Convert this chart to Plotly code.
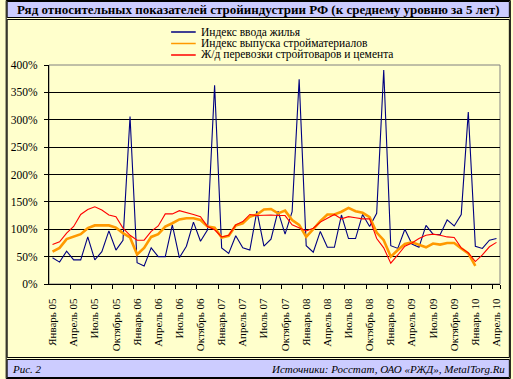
import plotly.graph_objects as go

# ---------------- data ----------------
month_names = ["Январь", "Февраль", "Март", "Апрель", "Май", "Июнь", "Июль",
               "Август", "Сентябрь", "Октябрь", "Ноябрь", "Декабрь"]
years = ["05", "06", "07", "08", "09", "10"]
months = [f"{m} {y}" for y in years for m in month_names][:64]  # Jan 05 .. Apr 10

housing = [48, 40, 60, 44, 44, 86, 44, 59, 97, 62, 80, 306,
           39, 33, 66, 50, 50, 108, 48, 69, 113, 78, 99, 363,
           66, 56, 88, 66, 62, 133, 69, 82, 133, 91, 132, 374,
           70, 58, 96, 67, 67, 126, 83, 83, 127, 105, 129, 391,
           70, 65, 100, 73, 67, 107, 91, 90, 117, 106, 127, 314,
           69, 65, 80, 83]
materials = [59, 66, 82, 86, 91, 102, 107, 107, 107, 103, 93, 85,
             54, 66, 86, 91, 105, 111, 118, 120, 120, 117, 105, 103,
             85, 88, 107, 111, 123, 127, 136, 137, 129, 134, 117, 108,
             86, 100, 115, 127, 127, 132, 139, 133, 130, 122, 94, 80,
             50, 62, 73, 76, 72, 67, 74, 72, 75, 75, 65, 56,
             33]
rail = [72, 77, 93, 105, 127, 136, 141, 135, 126, 123, 102, 89,
        80, 80, 96, 106, 128, 128, 134, 131, 127, 123, 105, 99,
        86, 89, 108, 114, 127, 125, 126, 126, 125, 125, 108, 102,
        97, 102, 113, 120, 127, 119, 123, 121, 119, 119, 83, 66,
        38, 53, 69, 75, 83, 89, 91, 89, 86, 85, 66, 57,
        41, 53, 68, 76]

series_names = ["Индекс ввода жилья", "Индекс выпуска стройматериалов",
                "Ж/д перевозки стройтоваров и цемента"]
series_colors = ["#000080", "#FF9900", "#FF0000"]
series_widths = [1.1, 2.6, 1.1]

title_text = "Ряд относительных показателей стройиндустрии РФ (к среднему уровню за 5 лет)"
fig_label = "Рис. 2"
source_text = "Источники: Росстат, ОАО «РЖД», MetalTorg.Ru"

# ---------------- layout helpers ----------------
W, H = 513, 379
L, R, T, B = 44, 502, 65, 284
FONT = "Times New Roman, Liberation Serif, serif"

def px(x):
    return (x - L) / (R - L)

def py(y):
    return (B - y) / (B - T)

fig = go.Figure()
idx = list(range(len(months)))
for vals, name, col, w in zip([housing, materials, rail], series_names,
                              series_colors, series_widths):
    fig.add_trace(go.Scatter(x=idx[:len(vals)], y=vals, name=name, mode="lines",
                             line=dict(color=col, width=w), showlegend=False,
                             hovertext=months[:len(vals)]))

tick_idx = list(range(0, len(months), 3))
shapes = []
shapes.append(dict(type="rect", xref="paper", yref="paper", x0=px(0.5), x1=px(512.5),
                   y0=py(0.5), y1=py(378.5), line=dict(color="black", width=1),
                   fillcolor="#FFFFCC", layer="below"))
shapes.append(dict(type="rect", xref="paper", yref="paper", x0=px(1.5), x1=px(511.5),
                   y0=py(1.5), y1=py(17.5), line=dict(color="black", width=1),
                   fillcolor="#CCCCFF", layer="below"))
shapes.append(dict(type="rect", xref="paper", yref="paper", x0=px(1.5), x1=px(511.5),
                   y0=py(359.5), y1=py(377.5), line=dict(color="black", width=1),
                   fillcolor="#CCCCFF", layer="below"))
shapes.append(dict(type="rect", xref="paper", yref="paper", x0=px(1.5), x1=px(511.5),
                   y0=py(19.5), y1=py(357.5), line=dict(color="black", width=1),
                   fillcolor="rgba(0,0,0,0)", layer="below"))
shapes.append(dict(type="rect", xref="paper", yref="paper", x0=0, x1=1, y0=0, y1=1,
                   line=dict(color="#808080", width=1), layer="below"))

annotations = [
    dict(text=f"<b>{title_text}</b>", xref="paper", yref="paper", x=px(256.5), y=py(9.5),
         xanchor="center", yanchor="middle", showarrow=False,
         font=dict(family=FONT, size=13, color="black")),
    dict(text=f"<i>{fig_label}</i>", xref="paper", yref="paper", x=px(4), y=py(369),
         xanchor="left", yanchor="middle", showarrow=False,
         font=dict(family=FONT, size=11, color="black")),
    dict(text=f"<i>{source_text}</i>", xref="paper", yref="paper", x=px(509), y=py(369),
         xanchor="right", yanchor="middle", showarrow=False,
         font=dict(family=FONT, size=11, color="black")),
]
leg_y = [32, 43.5, 55]
for name, col, ly in zip(series_names, series_colors, leg_y):
    shapes.append(dict(type="line", xref="paper", yref="paper", x0=px(168), x1=px(193),
                       y0=py(ly), y1=py(ly), line=dict(color=col, width=1.5)))
    annotations.append(dict(text=name, xref="paper", yref="paper", x=px(196), y=py(ly),
                            xanchor="left", yanchor="middle", showarrow=False,
                            font=dict(family=FONT, size=11.5, color="black")))

fig.update_layout(
    width=W, height=H,
    margin=dict(l=L, r=W - R, t=T, b=H - B, pad=0),
    paper_bgcolor="#FFFFCC", plot_bgcolor="#C0C0C0",
    shapes=shapes, annotations=annotations,
    font=dict(family=FONT, size=11, color="black"),
    showlegend=False,
)
fig.update_xaxes(
    range=[-0.5, len(months) - 0.5], tickmode="array", tickvals=tick_idx,
    ticktext=[months[i].replace(" ", "&nbsp;") for i in tick_idx], tickangle=-90,
    ticks="outside", ticklen=0, tickcolor="rgba(0,0,0,0)", ticklabelstandoff=9,
    minor=dict(tickmode="array", tickvals=[i - 0.5 for i in tick_idx][1:] + [len(months) - 0.5],
               ticks="outside", ticklen=4, tickcolor="black", showgrid=False),
    showgrid=False, zeroline=False, showline=True, linecolor="black", linewidth=1,
    tickfont=dict(family=FONT, size=11, color="black"),
)
fig.update_yaxes(
    range=[0, 400], tickmode="linear", tick0=0, dtick=50, ticksuffix="%",
    ticks="outside", ticklen=4, tickcolor="black", ticklabelstandoff=4,
    showgrid=True, gridcolor="black", gridwidth=1, zeroline=False,
    showline=True, linecolor="black", linewidth=1,
    tickfont=dict(family=FONT, size=11.5, color="black"),
)

fig.write_html("out.html", config={"displayModeBar": False},
               post_script="document.body.style.margin='0px';document.body.style.padding='0px';")
